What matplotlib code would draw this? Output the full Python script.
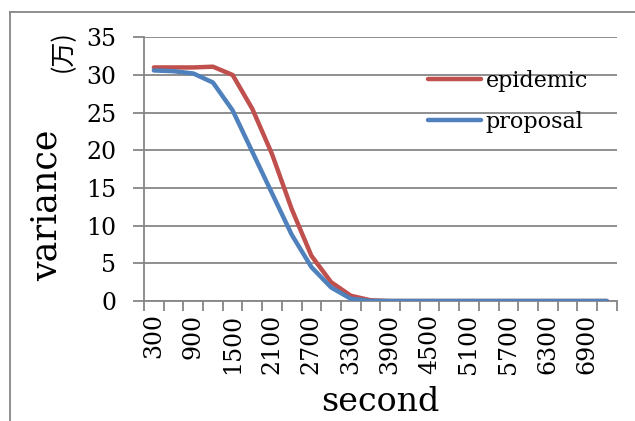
import matplotlib
matplotlib.use("Agg")
import matplotlib.pyplot as plt
from matplotlib.lines import Line2D

seconds = list(range(300, 7201, 300))
epidemic = [31.0, 31.0, 31.0, 31.1, 30.0, 25.5, 19.5, 12.2, 6.0, 2.5, 0.7, 0.1,
            0, 0, 0, 0, 0, 0, 0, 0, 0, 0, 0, 0]
proposal = [30.6, 30.5, 30.2, 29.0, 25.3, 19.8, 14.3, 8.8, 4.5, 1.8, 0.3, 0,
            0, 0, 0, 0, 0, 0, 0, 0, 0, 0, 0, 0]
yticks = [0, 5, 10, 15, 20, 25, 30, 35]
series_names = ["epidemic", "proposal"]

SERIF = ["DejaVu Serif"]
CJK = ["Noto Sans CJK SC", "DejaVu Serif"]
grey = "#868686"

fig = plt.figure(figsize=(6.35, 4.21), dpi=100)
ax = fig.add_axes([144/635, 1-301/421, (616.7-144)/635, (301-37.3)/421])

x = list(range(len(seconds)))
ax.plot(x, epidemic, color="#C0504D", lw=3.2, solid_capstyle="round", label=series_names[0], zorder=3)
ax.plot(x, proposal, color="#4F81BD", lw=3.2, solid_capstyle="round", label=series_names[1], zorder=4)

ax.set_xlim(-0.5, len(seconds) - 0.5)
ax.set_ylim(0, 35)
ax.set_yticks(yticks)
ax.set_yticklabels([str(v) for v in yticks], family=SERIF, fontsize=17)
ax.set_xticks([i - 0.5 for i in range(len(seconds) + 1)], minor=False)
ax.set_xticklabels([])
ax.set_xticks(x[::2], minor=True)
ax.set_xticklabels([str(s) for s in seconds[::2]], minor=True, rotation=90,
                   family=SERIF, fontsize=17)
ax.tick_params(axis="x", which="major", length=7, width=1.3, color=grey, direction="out")
ax.tick_params(axis="x", which="minor", length=0, pad=9)
ax.tick_params(axis="y", length=8, width=1.3, color=grey, pad=12)

ax.grid(axis="y", color=grey, lw=1.3)
ax.set_axisbelow(True)
for s in ["top", "right"]:
    ax.spines[s].set_visible(False)
for s in ["left", "bottom"]:
    ax.spines[s].set_color(grey)
    ax.spines[s].set_linewidth(1.3)

fig.text(47/635, 1-205/421, "variance", rotation=90, family=SERIF, fontsize=25,
         ha="center", va="center")
fig.text(63/635, 1-51/421, "(万)", rotation=90, family=CJK, fontsize=18,
         ha="center", va="center")
fig.text(380/635, 1-402/421, "second", family=SERIF, fontsize=24,
         ha="center", va="center")

leg = ax.legend(loc="upper left", bbox_to_anchor=(0.601, 0.876), frameon=False,
                prop={"family": SERIF, "size": 16}, handlelength=2.4,
                handletextpad=0.2, labelspacing=0.85, borderaxespad=0,
                borderpad=0)

# outer chart border
fig.add_artist(Line2D([10/635, 10/635], [0, 1-12/421], transform=fig.transFigure,
                      color=grey, lw=1.3))
fig.add_artist(Line2D([10/635, 1], [1-12/421, 1-12/421], transform=fig.transFigure,
                      color=grey, lw=1.3))

fig.savefig("out.png", dpi=100)
